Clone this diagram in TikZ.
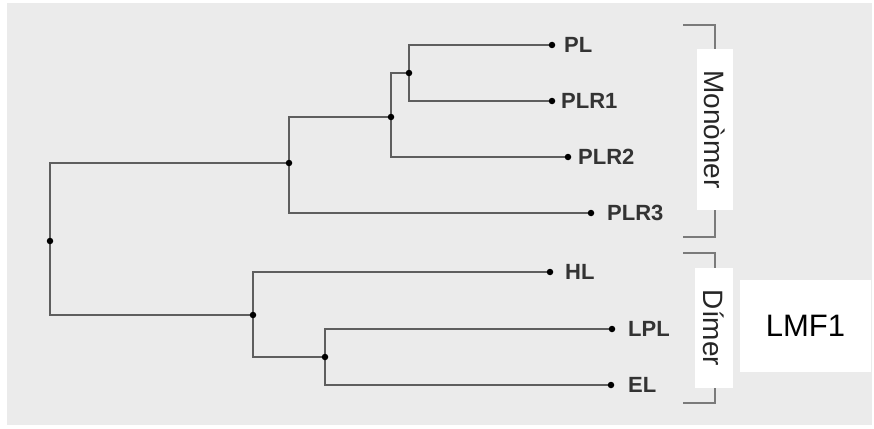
\documentclass[tikz,border=0pt]{standalone}
\usepackage{fontspec}
\setmainfont{Liberation Sans}
\definecolor{panel}{HTML}{EBEBEB}
\definecolor{branch}{HTML}{5E5E5E}
\definecolor{leafink}{HTML}{333333}
\definecolor{bracketink}{HTML}{7A7A7A}
\begin{document}
\begin{tikzpicture}[x=1pt,y=-1pt,
  dot/.style={circle,inner sep=0pt,minimum size=6.5pt},
  branchline/.style={draw=branch,line width=1.6pt},
  leaf/.style={anchor=west,inner sep=0pt,text=leafink,font=\fontsize{22}{22}\selectfont\bfseries},
  bracketline/.style={draw=bracketink,line width=1.8pt},
  groupbox/.style={fill=white,draw=none,inner sep=0pt},
  grouplabel/.style={rotate=-90,inner sep=0pt,text=black!85,font=\fontsize{28}{28}\selectfont}]
  % canvas
  \useasboundingbox (0,0) rectangle (874,428);
  \fill[white] (0,0) rectangle (874,428);
  \fill[panel] (7,3) rectangle (872,425);

  % internal nodes of the tree
  \node[dot] (r)  at (50,241)  {};
  \node[dot] (n2) at (289,163) {};
  \node[dot] (n3) at (253,315) {};
  \node[dot] (n4) at (391,117) {};
  \node[dot] (n5) at (409,73)  {};
  \node[dot] (n6) at (325,357) {};

  % leaf tips
  \node[dot] (dPL)   at (552,45)  {};
  \node[dot] (dPLR1) at (552,101) {};
  \node[dot] (dPLR2) at (568,157) {};
  \node[dot] (dPLR3) at (591,213) {};
  \node[dot] (dHL)   at (550,272) {};
  \node[dot] (dLPL)  at (612,329) {};
  \node[dot] (dEL)   at (611,385) {};

  % leaf labels
  \node[leaf] (tPL)   at (564,45)  {PL};
  \node[leaf] (tPLR1) at (561,101) {PLR1};
  \node[leaf] (tPLR2) at (578,157) {PLR2};
  \node[leaf] (tPLR3) at (607,213) {PLR3};
  \node[leaf] (tHL)   at (565,272) {HL};
  \node[leaf] (tLPL)  at (628,329) {LPL};
  \node[leaf] (tEL)   at (628,385) {EL};

  % branches
  \path[branchline] (r.center) |- (n2.center);
  \path[branchline] (r.center) |- (n3.center);
  \path[branchline] (n2.center) |- (n4.center);
  \path[branchline] (n2.center) |- (dPLR3.center);
  \path[branchline] (n4.center) |- (n5.center);
  \path[branchline] (n4.center) |- (dPLR2.center);
  \path[branchline] (n5.center) |- (dPL.center);
  \path[branchline] (n5.center) |- (dPLR1.center);
  \path[branchline] (n3.center) |- (dHL.center);
  \path[branchline] (n3.center) |- (n6.center);
  \path[branchline] (n6.center) |- (dLPL.center);
  \path[branchline] (n6.center) |- (dEL.center);

  % dots on top of the branches
  \foreach \d in {r,n2,n3,n4,n5,n6,dPL,dPLR1,dPLR2,dPLR3,dHL,dLPL,dEL}
    \fill[black] (\d.center) circle (3.25pt);

  % group brackets
  \coordinate (mTop) at (683,25);
  \coordinate (mBot) at (683,237);
  \coordinate (dTop) at (683,253);
  \coordinate (dBot) at (683,403);
  \path[bracketline] (mTop) -- ++(32,0) |- (mBot);
  \path[bracketline] (dTop) -- ++(32,0) |- (dBot);

  % group labels
  \node[groupbox,minimum width=36pt,minimum height=161pt] (mBox) at (715,129.5) {};
  \node[grouplabel] (mText) at (mBox.center) {Monòmer};
  \node[groupbox,minimum width=38pt,minimum height=120pt] (dBox) at (714,328) {};
  \node[grouplabel] (dText) at (dBox.center) {Dímer};

  % family label
  \node[groupbox,minimum width=131pt,minimum height=92pt] (fBox) at (805.5,326) {};
  \node[inner sep=0pt,font=\fontsize{31}{31}\selectfont] (fText) at (fBox.center) {LMF1};
\end{tikzpicture}
\end{document}
